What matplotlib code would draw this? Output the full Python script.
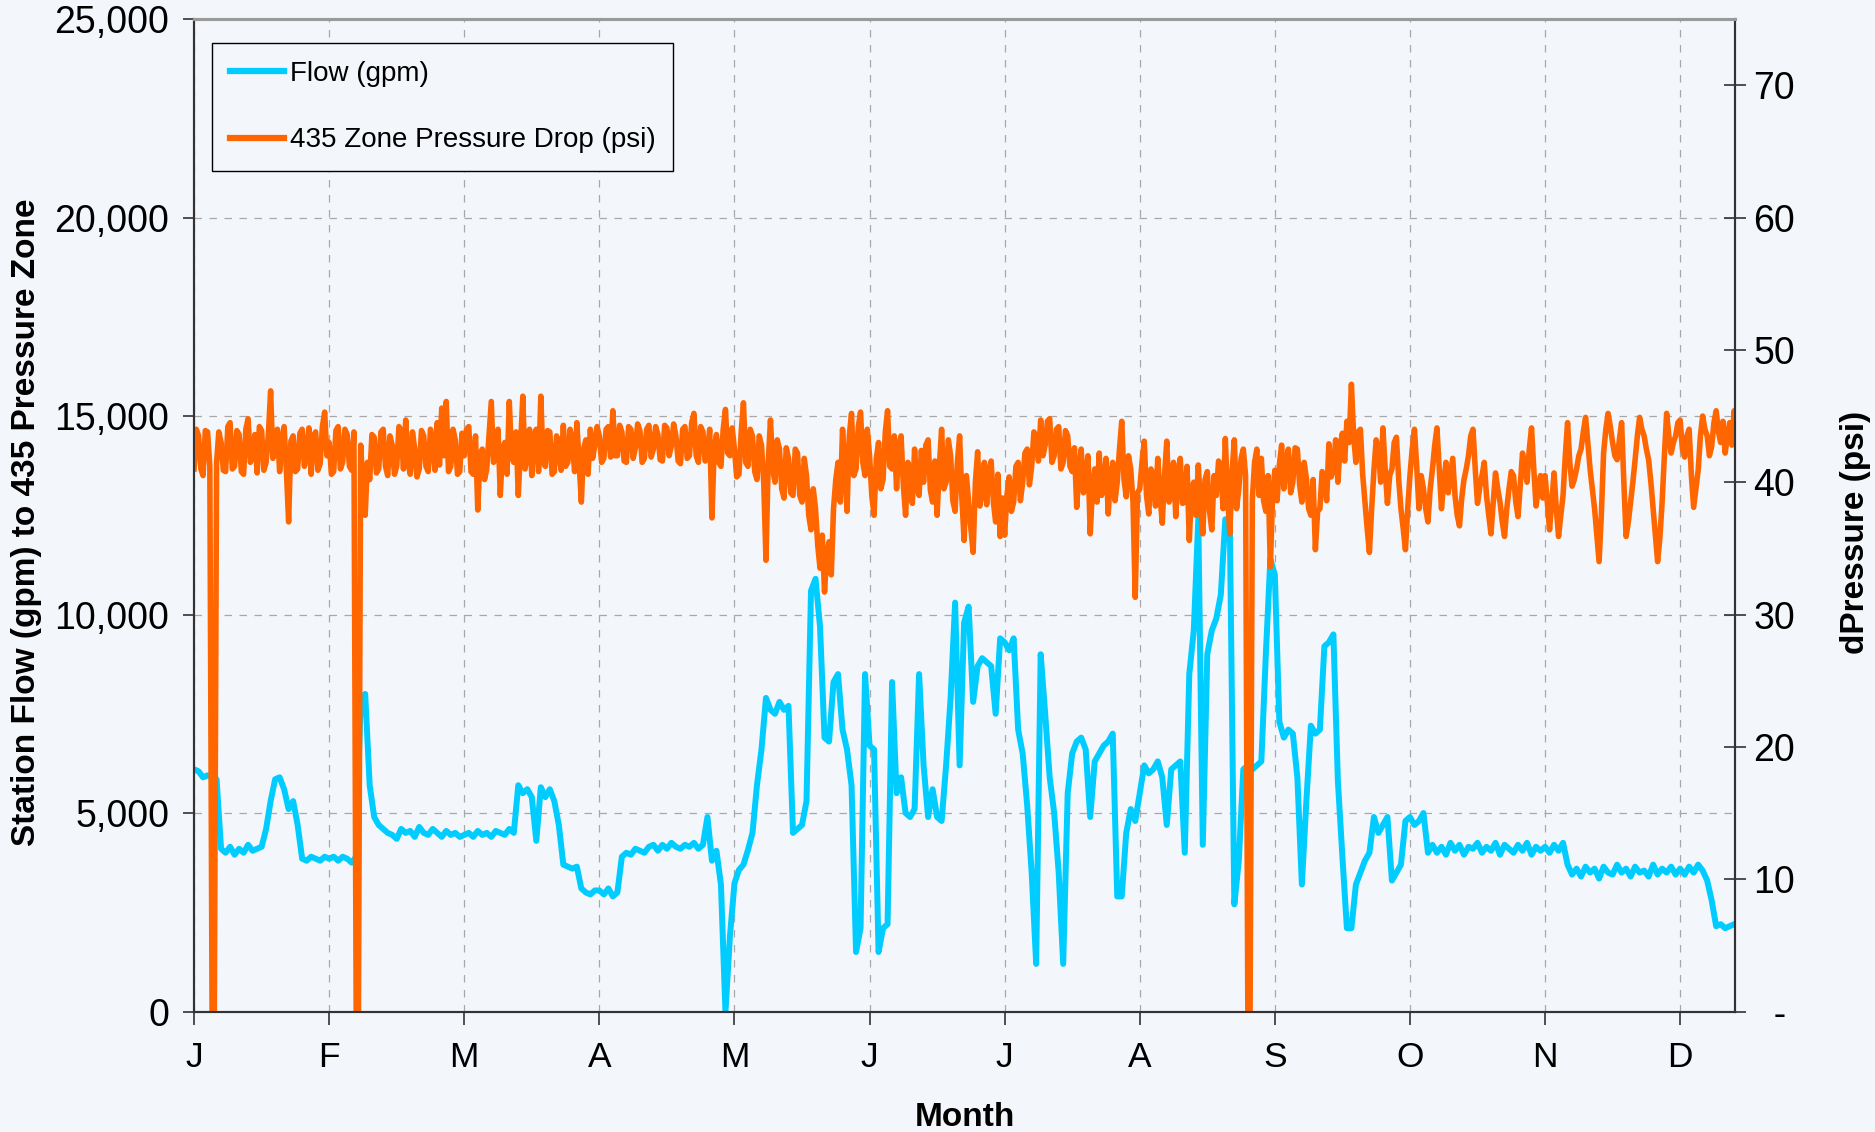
import numpy as np
import matplotlib.pyplot as plt
from matplotlib.lines import Line2D
from matplotlib.ticker import FuncFormatter

plt.rcParams['font.family'] = ['Liberation Sans', 'DejaVu Sans']

months = ['J', 'F', 'M', 'A', 'M', 'J', 'J', 'A', 'S', 'O', 'N', 'D']

# station flow (gpm), one reading per day, one list per month
flow_jan = [6100, 6050, 5900, 5950, 5900, 5850, 4100, 4000, 4150, 3950, 4100, 4000, 4200, 4050, 4100,
            4150, 4600, 5300, 5850, 5900, 5600, 5100, 5300, 4700, 3850, 3800, 3900, 3850, 3800, 3900]
flow_feb = [3850, 3900, 3800, 3900, 3850, 3750, 3900, 7900, 8000, 5700, 4900, 4700, 4600, 4500, 4450,
            4350, 4600, 4500, 4550, 4400, 4650, 4500, 4450, 4600, 4500, 4400, 4550, 4450, 4500, 4400]
flow_mar = [4450, 4500, 4400, 4550, 4450, 4500, 4400, 4550, 4500, 4450, 4600, 4500, 5700, 5500, 5600,
            5400, 4300, 5650, 5400, 5600, 5300, 4700, 3700, 3650, 3600, 3650, 3100, 3000, 2950, 3050]
flow_apr = [3050, 2950, 3100, 2900, 3000, 3900, 4000, 3950, 4100, 4050, 4000, 4150, 4200, 4050, 4200,
            4100, 4250, 4150, 4100, 4200, 4150, 4250, 4100, 4200, 4900, 3800, 4050, 3200, 0, 1900]
flow_may = [3230, 3570, 3700, 4070, 4500, 5700, 6600, 7900, 7600, 7500, 7800, 7600, 7700, 4500, 4600,
            4700, 5300, 10600, 10900, 9700, 6900, 6800, 8300, 8500, 7100, 6600, 5700, 1500, 2100, 8500]
flow_jun = [6700, 6600, 1500, 2100, 2200, 8300, 5500, 5900, 5000, 4900, 5100, 8500, 6200, 4900, 5600,
            4900, 4800, 6200, 7900, 10300, 6200, 9800, 10200, 7800, 8700, 8900, 8800, 8700, 7500, 9400]
flow_jul = [9300, 9100, 9400, 7100, 6500, 5200, 3500, 1200, 9000, 7500, 5900, 5000, 3500, 1200, 5500,
            6500, 6800, 6900, 6600, 4900, 6300, 6500, 6700, 6800, 7000, 2900, 2900, 4500, 5100, 4800]
flow_aug = [5500, 6200, 6000, 6100, 6300, 5900, 4700, 6100, 6200, 6300, 4000, 8500, 9600, 12400, 4200,
            9000, 9600, 9900, 10500, 12400, 12300, 2700, 3800, 6100, 6200, 6100, 6200, 6300, 9000, 11400]
flow_sep = [11000, 7300, 6900, 7100, 7000, 5900, 3200, 5300, 7200, 7000, 7100, 9200, 9300, 9500, 5800,
            3900, 2100, 2100, 3200, 3500, 3800, 4000, 4900, 4500, 4700, 4900, 3300, 3500, 3700, 4800]
flow_oct = [4900, 4700, 4800, 5000, 4000, 4200, 4000, 4150, 3950, 4250, 4050, 4200, 3950, 4150, 4100,
            4250, 4000, 4150, 4050, 4250, 3950, 4200, 4100, 4000, 4200, 4050, 4250, 3950, 4150, 4050]
flow_nov = [4150, 4000, 4200, 4050, 4250, 3700, 3450, 3600, 3400, 3650, 3500, 3600, 3350, 3650, 3500,
            3450, 3700, 3500, 3600, 3400, 3650, 3500, 3550, 3400, 3700, 3450, 3600, 3500, 3650, 3450]
flow_dec = [3600, 3450, 3650, 3500, 3700, 3550, 3300, 2800, 2150, 2200, 2100, 2150, 2200]

# 435 zone pressure drop (psi), morning and evening reading per day, per month
psi_jan = [41.0, 43.5, 40.5, 43.8, 0.0, 41.5, 43.0, 40.8, 44.5, 41.2, 43.6, 40.6, 44.8, 42.0, 40.7,
           43.9, 41.5, 46.9, 42.5, 40.8, 44.2, 37.0, 43.5, 41.0, 44.0, 42.2, 40.6, 43.8, 41.4, 45.3]
psi_jan_pm = [44.0, 41.0, 43.9, 41.2, 0.0, 43.8, 40.9, 44.2, 41.0, 43.9, 40.8, 44.0, 41.5, 43.6, 44.2,
              40.9, 43.6, 41.8, 44.0, 43.2, 40.9, 43.1, 40.8, 43.7, 41.2, 44.1, 43.5, 40.9, 44.2, 42.0]
psi_feb = [43.0, 40.8, 44.2, 41.5, 43.6, 40.9, 0.0, 42.8, 37.5, 40.2, 43.4, 41.0, 44.0, 40.5, 42.8,
           41.2, 43.9, 44.7, 40.6, 42.5, 41.0, 43.5, 40.8, 42.9, 44.5, 45.6, 46.1, 41.2, 43.2, 40.8]
psi_feb_pm = [40.6, 43.9, 41.0, 44.0, 41.2, 43.8, 0.0, 39.8, 41.5, 43.6, 40.7, 43.8, 41.2, 43.5, 40.6,
              44.2, 41.0, 41.5, 43.8, 40.4, 43.9, 41.2, 44.0, 40.9, 41.3, 42.0, 40.8, 44.0, 40.6, 43.7]
psi_mar = [42.0, 44.2, 40.6, 37.9, 42.5, 41.0, 46.1, 41.8, 39.0, 43.0, 46.1, 41.5, 39.0, 46.5, 42.2,
           40.5, 44.0, 46.5, 41.2, 43.8, 40.8, 42.6, 44.3, 41.5, 43.0, 44.5, 38.5, 43.2, 44.0, 42.8]
psi_mar_pm = [44.0, 40.8, 43.5, 42.0, 40.2, 43.6, 41.5, 44.0, 42.5, 40.6, 42.0, 43.8, 42.8, 41.0, 44.0,
              43.5, 40.8, 41.5, 43.9, 40.6, 43.5, 40.9, 41.2, 44.0, 40.8, 41.5, 42.5, 40.6, 41.8, 44.2]
psi_apr = [43.5, 41.8, 44.2, 45.4, 42.0, 43.8, 41.5, 44.0, 42.6, 43.9, 41.8, 44.3, 42.5, 43.6, 41.6,
           44.1, 42.8, 43.5, 41.4, 44.2, 42.0, 45.2, 41.5, 43.8, 42.2, 37.3, 43.6, 41.2, 45.5, 42.0]
psi_apr_pm = [41.5, 44.0, 41.9, 42.0, 44.3, 41.6, 44.2, 41.8, 44.4, 41.5, 44.0, 41.9, 44.2, 41.7, 44.3,
              42.0, 44.4, 41.6, 44.0, 41.8, 44.5, 42.0, 44.2, 41.6, 44.0, 42.5, 41.5, 44.0, 42.2, 44.1]
psi_may = [42.5, 40.6, 46.0, 41.2, 43.5, 40.2, 42.8, 34.1, 44.7, 40.0, 42.5, 38.8, 41.8, 39.0, 42.2,
           38.5, 40.5, 36.4, 38.0, 33.5, 31.7, 35.5, 38.0, 41.5, 44.0, 37.8, 45.2, 41.0, 45.3, 40.5]
psi_may_pm = [40.4, 43.8, 41.5, 44.0, 40.8, 43.5, 40.0, 41.5, 41.0, 43.2, 39.5, 42.6, 39.2, 42.5, 39.0,
              41.8, 37.5, 39.5, 35.2, 36.0, 34.5, 33.0, 40.2, 38.5, 41.2, 43.5, 40.5, 44.2, 41.5, 44.0]
psi_jun = [42.0, 37.5, 43.0, 40.2, 45.4, 41.0, 39.5, 43.5, 37.5, 41.0, 42.5, 39.0, 40.0, 43.2, 38.5,
           37.5, 44.0, 40.0, 42.0, 37.8, 43.5, 35.6, 38.5, 34.7, 42.3, 39.5, 38.3, 41.6, 37.0, 35.9]
psi_jun_pm = [39.0, 41.8, 39.5, 43.8, 41.2, 43.5, 42.8, 39.8, 41.5, 38.4, 39.6, 42.4, 42.8, 39.4, 41.6,
              41.2, 39.5, 43.2, 38.6, 41.5, 38.8, 40.5, 36.5, 40.0, 38.2, 41.5, 40.8, 38.5, 40.6, 38.8]
psi_jul = [36.0, 40.4, 38.5, 41.5, 40.0, 42.5, 41.2, 43.5, 44.7, 42.8, 44.8, 42.0, 44.2, 41.5, 43.5,
           40.8, 38.1, 42.5, 40.5, 36.1, 41.0, 42.2, 39.5, 37.6, 41.5, 40.0, 44.6, 38.9, 41.0, 31.3]
psi_jul_pm = [39.0, 37.8, 41.2, 38.6, 42.2, 39.8, 43.8, 41.6, 42.0, 44.6, 41.5, 44.0, 41.0, 43.9, 41.2,
              42.6, 41.0, 39.2, 42.0, 39.5, 38.5, 39.0, 41.8, 40.5, 38.6, 42.5, 40.2, 42.0, 38.5, 39.2]
psi_aug = [39.5, 43.1, 37.6, 40.5, 41.8, 36.9, 43.1, 39.0, 37.4, 41.8, 38.5, 35.6, 40.0, 41.3, 36.1,
           40.8, 36.4, 39.0, 41.3, 43.3, 36.1, 43.2, 39.5, 42.5, 0.0, 38.7, 42.5, 41.8, 37.8, 33.6]
psi_aug_pm = [41.5, 39.0, 41.0, 38.2, 39.0, 40.5, 38.5, 41.5, 40.5, 38.4, 41.2, 39.5, 37.5, 38.2, 40.2,
              37.8, 40.5, 41.6, 38.0, 39.0, 40.8, 38.0, 41.8, 40.5, 0.0, 41.5, 39.0, 38.6, 40.5, 39.0]
psi_sep = [40.9, 41.3, 39.5, 42.5, 40.0, 42.5, 38.5, 40.3, 37.5, 34.9, 38.0, 40.5, 42.9, 41.0, 40.0,
           43.7, 44.6, 47.4, 41.5, 44.0, 38.5, 34.7, 40.9, 42.5, 44.1, 38.4, 41.0, 43.4, 38.0, 34.9]
psi_sep_pm = [38.6, 42.8, 41.6, 39.2, 42.6, 39.8, 41.5, 38.0, 40.2, 37.8, 40.8, 38.6, 40.4, 43.2, 42.8,
              41.6, 43.0, 43.5, 43.8, 40.6, 36.5, 38.0, 43.2, 40.0, 41.0, 40.5, 43.0, 40.2, 36.5, 38.0]
psi_oct = [40.5, 44.0, 38.0, 39.5, 37.0, 41.0, 44.1, 38.0, 41.5, 40.5, 39.0, 36.7, 40.2, 42.0, 44.0,
           38.4, 40.5, 39.0, 36.1, 40.7, 38.5, 35.9, 39.5, 40.5, 37.4, 42.2, 40.0, 44.1, 38.2, 40.5]
psi_oct_pm = [42.5, 41.2, 40.5, 38.0, 39.5, 42.8, 41.0, 40.0, 39.2, 41.8, 37.5, 38.8, 41.0, 43.5, 41.0,
              39.6, 41.5, 37.5, 38.5, 39.5, 37.0, 38.0, 40.8, 38.5, 39.8, 41.0, 42.5, 41.0, 39.5, 38.8]
psi_nov = [40.5, 36.4, 40.7, 35.9, 39.0, 44.5, 39.7, 41.0, 42.5, 44.9, 41.0, 38.0, 34.0, 42.2, 45.2,
           43.0, 41.7, 44.5, 35.9, 38.5, 41.7, 44.9, 43.5, 41.7, 38.0, 34.0, 38.5, 45.2, 42.2, 43.5]
psi_nov_pm = [38.5, 38.6, 38.0, 37.5, 42.0, 41.5, 40.2, 42.0, 43.8, 43.0, 39.5, 36.0, 37.5, 44.0, 44.2,
              42.0, 43.2, 40.0, 37.0, 40.0, 43.5, 44.0, 42.5, 40.0, 36.0, 35.8, 42.0, 43.5, 43.0, 44.5]
psi_dec = [44.7, 41.9, 44.0, 38.1, 40.9, 45.0, 43.5, 42.7, 45.4, 43.0, 42.2, 44.5, 45.4]
psi_dec_pm = [42.5, 43.5, 40.5, 39.5, 43.5, 44.0, 42.0, 44.5, 43.8, 44.6, 43.5, 42.8, 44.0]

flow_months = [flow_jan, flow_feb, flow_mar, flow_apr, flow_may, flow_jun,
               flow_jul, flow_aug, flow_sep, flow_oct, flow_nov, flow_dec]
psi_am = [psi_jan, psi_feb, psi_mar, psi_apr, psi_may, psi_jun,
          psi_jul, psi_aug, psi_sep, psi_oct, psi_nov, psi_dec]
psi_pm = [psi_jan_pm, psi_feb_pm, psi_mar_pm, psi_apr_pm, psi_may_pm, psi_jun_pm,
          psi_jul_pm, psi_aug_pm, psi_sep_pm, psi_oct_pm, psi_nov_pm, psi_dec_pm]

# x in months, 30 days per month
x_flow = np.concatenate([m + np.arange(len(v)) / 30.0 for m, v in enumerate(flow_months)])
flow = np.concatenate(flow_months)
x_psi = np.concatenate([m + np.arange(2 * len(v)) / 60.0 for m, v in enumerate(psi_am)])
psi = np.concatenate([np.column_stack((a, p)).ravel() for a, p in zip(psi_am, psi_pm)])

bg = '#F3F6FB'
cyan = '#00CCFF'
orange = '#FF6600'

fig = plt.figure(figsize=(18.75, 11.32), dpi=100, facecolor=bg)
ax1 = fig.add_axes([0.1035, 0.1064, 0.8219, 0.8768])
ax1.set_facecolor(bg)
ax1.set_axisbelow(True)

ax1.plot(x_flow, flow, color=cyan, lw=4.3, solid_joinstyle='round')
ax1.set_xlim(0, 11.407)
ax1.set_ylim(0, 25000)
ax1.set_yticks(range(0, 25001, 5000))
ax1.yaxis.set_major_formatter(FuncFormatter(lambda v, p: f'{int(v):,}'))
ax1.set_xticks(range(12))
ax1.set_xticklabels(months)
ax1.grid(True, ls=(0, (6, 6)), color='#A8A8A8', lw=0.9)

ax2 = ax1.twinx()
ax2.plot(x_psi, psi, color=orange, lw=4.0, solid_joinstyle='round')
ax2.set_ylim(0, 75)
ax2.set_yticks(range(0, 71, 10))
ax2.set_yticklabels(['  -'] + [str(v) for v in range(10, 71, 10)])

ax1.tick_params(axis='y', direction='out', length=8, width=1.2, labelsize=27, pad=10, color='#333333')
ax1.tick_params(axis='x', direction='out', length=9, width=1.2, labelsize=25.5, pad=12, color='#333333')
ax2.tick_params(axis='y', direction='inout', length=16, width=1.2, labelsize=27, pad=5, color='#333333')

for a in (ax1, ax2):
    for side in ('left', 'right', 'bottom'):
        a.spines[side].set_color('#333333')
        a.spines[side].set_linewidth(1.5)
    a.spines['top'].set_color('#9A9A9A')
    a.spines['top'].set_linewidth(2.2)

ax1.set_ylabel('Station Flow (gpm) to 435 Pressure Zone', fontsize=24, fontweight='bold')
ax1.yaxis.set_label_coords(-0.0986, 0.493)
ax2.set_ylabel('dPressure (psi)', fontsize=24, fontweight='bold')
ax2.yaxis.set_label_coords(1.068, 0.483)
ax1.set_xlabel('Month', fontsize=24, fontweight='bold')
ax1.xaxis.set_label_coords(0.5, -0.091)

handles = [Line2D([], [], color=cyan, lw=4.5), Line2D([], [], color=orange, lw=4.5)]
leg = ax2.legend(handles, ['Flow (gpm)', '435 Zone Pressure Drop (psi)'],
                 loc='upper left', bbox_to_anchor=(0.0115, 0.9758), borderaxespad=0,
                 fontsize=20, frameon=True, fancybox=False, shadow=False, framealpha=1,
                 facecolor=bg, edgecolor='black', handlelength=1.95,
                 handletextpad=0.2, labelspacing=1.45, borderpad=0.65)
leg.get_frame().set_linewidth(1.0)

fig.savefig('out.png', dpi=100, facecolor=bg)
